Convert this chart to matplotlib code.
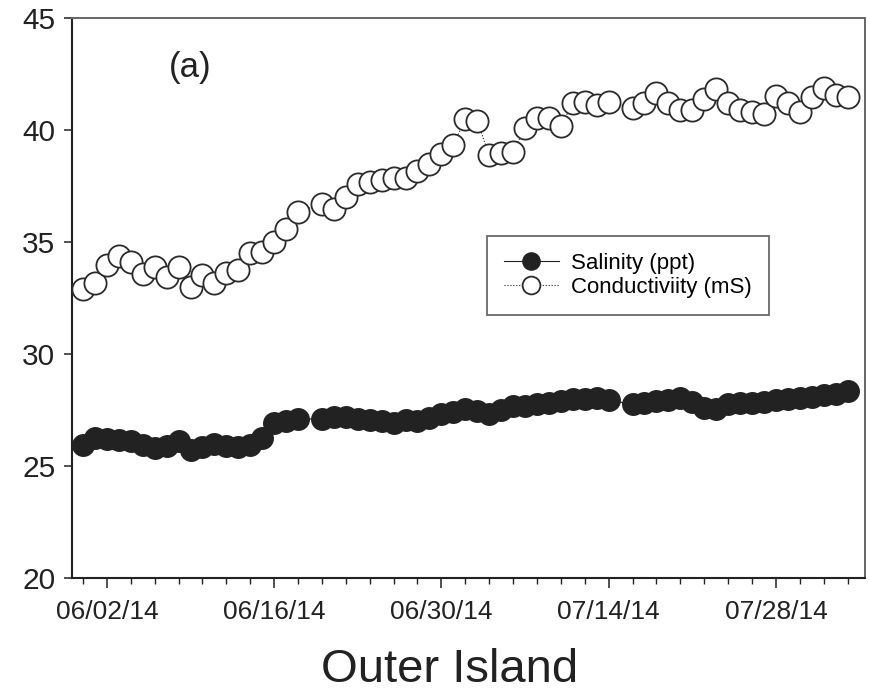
import numpy as np
import pandas as pd
import matplotlib
matplotlib.use("Agg")
import matplotlib.pyplot as plt
import matplotlib.dates as mdates
from matplotlib.ticker import FixedLocator, NullFormatter

plt.rcParams['font.family'] = ['Liberation Sans', 'DejaVu Sans']

# ---- data ----
all_days = pd.date_range('2014-05-31', '2014-08-03', freq='D')
missing_days = pd.to_datetime(['2014-06-19', '2014-07-15'])
dates = all_days[~all_days.isin(missing_days)]

salinity = [25.95, 26.25, 26.2, 26.15, 26.1, 25.95, 25.8, 25.9, 26.1, 25.7,
            25.85, 26.0, 25.9, 25.85, 25.95, 26.25, 26.9, 27.0, 27.1,
            27.1, 27.2, 27.2, 27.1, 27.05, 27.0, 26.9, 27.05, 27.0, 27.15,
            27.3, 27.4, 27.55, 27.45, 27.3, 27.5, 27.7, 27.7, 27.75, 27.8,
            27.9, 28.0, 28.0, 28.05, 27.95,
            27.75, 27.8, 27.9, 27.95, 28.05, 27.85, 27.6, 27.55, 27.75, 27.8,
            27.8, 27.85, 27.95, 28.0, 28.05, 28.1, 28.15, 28.2, 28.35]

conductivity = [32.89, 33.17, 33.97, 34.38, 34.12, 33.57, 33.88, 33.45, 33.88, 32.99,
                33.53, 33.17, 33.62, 33.75, 34.52, 34.57, 35.01, 35.57, 36.35,
                36.7, 36.46, 37.02, 37.6, 37.7, 37.77, 37.86, 37.86, 38.15, 38.5,
                38.95, 39.33, 40.49, 40.4, 38.88, 38.97, 39.02, 40.09, 40.54, 40.54,
                40.18, 41.21, 41.25, 41.12, 41.25,
                40.98, 41.21, 41.65, 41.21, 40.89, 40.89, 41.38, 41.83, 41.21, 40.89,
                40.8, 40.71, 41.52, 41.21, 40.8, 41.47, 41.88, 41.56, 41.47]

x_tick_labels = ['06/02/14', '06/16/14', '06/30/14', '07/14/14', '07/28/14']
y_ticks = [20, 25, 30, 35, 40, 45]
series_labels = ['Salinity (ppt)', 'Conductiviity (mS)']
panel_label = '(a)'
x_title = 'Outer Island'

# ---- figure ----
fig = plt.figure(figsize=(8.70, 6.98), dpi=100)
ax = fig.add_axes([72/870, 1-578/698, (865-72)/870, 560/698])

dark = '#222222'
ax.plot(dates, salinity, linestyle='-', color=dark, linewidth=0.8,
        marker='o', markersize=15.5, markerfacecolor=dark, markeredgecolor=dark,
        markeredgewidth=1.0, label=series_labels[0], zorder=3)
ax.plot(dates, conductivity, linestyle=':', color=dark, linewidth=0.8,
        marker='o', markersize=16, markerfacecolor='white', markeredgecolor='#2b2b2b',
        markeredgewidth=1.3, label=series_labels[1], zorder=3)

d0 = mdates.date2num(pd.Timestamp('2014-06-02'))
ax.set_xlim(d0 - 2.92, d0 + 63.46)
ax.set_ylim(20, 45)

major = [mdates.date2num(pd.to_datetime(s, format='%m/%d/%y')) for s in x_tick_labels]
ax.xaxis.set_major_locator(FixedLocator(major))
ax.xaxis.set_major_formatter(mdates.DateFormatter('%m/%d/%y'))
minor = mdates.date2num(pd.date_range('2014-05-31', '2014-08-04', freq='2D'))
ax.xaxis.set_minor_locator(FixedLocator(minor))
ax.xaxis.set_minor_formatter(NullFormatter())
ax.set_yticks(y_ticks)

ax.tick_params(axis='x', which='major', direction='out', length=7, width=1.1,
               labelsize=19, pad=9, colors='#222222')
ax.tick_params(axis='x', which='minor', direction='out', length=4, width=1.0, colors='#222222')
ax.tick_params(axis='y', which='major', direction='out', length=6, width=1.1,
               labelsize=21.5, pad=6, colors='#222222')

for s in ['left', 'bottom']:
    ax.spines[s].set_color('#222222')
    ax.spines[s].set_linewidth(1.5)
for s in ['top', 'right']:
    ax.spines[s].set_color('#666666')
    ax.spines[s].set_linewidth(1.4)

ax.text(0.149, 0.911, panel_label, transform=ax.transAxes, fontsize=25,
        ha='center', va='center', color='#222222')

leg = ax.legend(loc='upper left', bbox_to_anchor=((487-72)/793, 1-(236-18)/560),
                fontsize=16, frameon=True, fancybox=False, edgecolor='#444444',
                handlelength=2.5, handletextpad=0.55, labelspacing=0.15,
                borderpad=0.75, markerscale=0.8, borderaxespad=0)
leg.get_frame().set_linewidth(1.3)

fig.text(450/870, 1-670/698, x_title, fontsize=34, ha='center', va='center', color='#222222')

fig.savefig('out.png', dpi=100)
